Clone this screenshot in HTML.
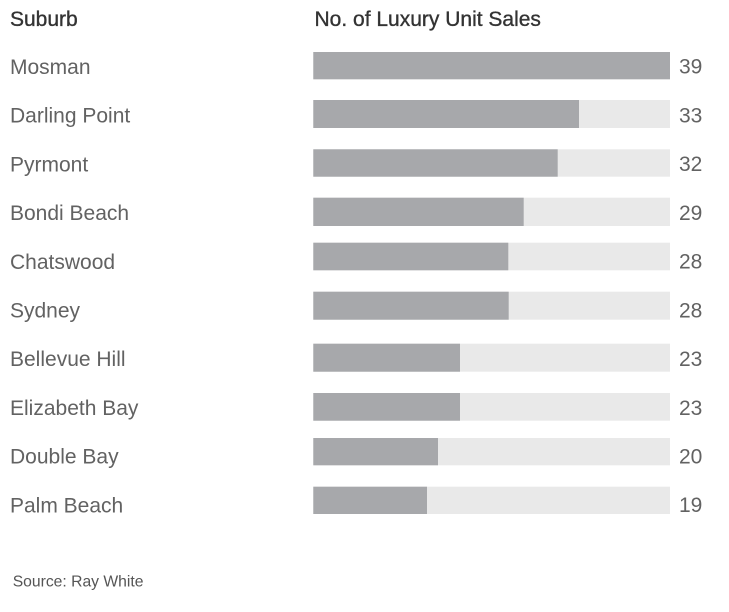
<!DOCTYPE html>
<html>
<head>
<meta charset="utf-8">
<style>
  html, body { margin:0; padding:0; background:#ffffff; }
  body { width:729px; height:612px; overflow:hidden; }
  svg { display:block; }
  text { font-family:"Liberation Sans", sans-serif; }
  .hdr { font-size:21px; fill:#333333; stroke:#333333; stroke-width:0.35px; }
  .lbl { font-size:21px; fill:#626262; }
  .val { font-size:21px; fill:#626262; }
  .src { font-size:15.7px; fill:#555555; }
  .trk { fill:#e9e9e9; }
  .bar { fill:#a7a8ab; }
</style>
</head>
<body>
<svg width="729" height="612" viewBox="0 0 729 612" xmlns="http://www.w3.org/2000/svg">
  <text class="hdr" x="10" y="26">Suburb</text>
  <text class="hdr" x="314.5" y="26">No. of Luxury Unit Sales</text>

  <!-- tracks -->
  <rect class="trk" x="313.3" y="52" width="356.7" height="27.3"/>
  <rect class="trk" x="313.3" y="100" width="356.7" height="28"/>
  <rect class="trk" x="313.3" y="149.3" width="356.7" height="27.4"/>
  <rect class="trk" x="313.3" y="197.7" width="356.7" height="28.3"/>
  <rect class="trk" x="313.3" y="242.7" width="356.7" height="27.6"/>
  <rect class="trk" x="313.3" y="291.7" width="356.7" height="28"/>
  <rect class="trk" x="313.3" y="343.7" width="356.7" height="28"/>
  <rect class="trk" x="313.3" y="393" width="356.7" height="27.7"/>
  <rect class="trk" x="313.3" y="438" width="356.7" height="27.3"/>
  <rect class="trk" x="313.3" y="486.7" width="356.7" height="27.3"/>

  <!-- bars -->
  <rect class="bar" x="313.3" y="52" width="356.7" height="27.3"/>
  <rect class="bar" x="313.3" y="100" width="265.7" height="28"/>
  <rect class="bar" x="313.3" y="149.3" width="244.4" height="27.4"/>
  <rect class="bar" x="313.3" y="197.7" width="210.4" height="28.3"/>
  <rect class="bar" x="313.3" y="242.7" width="195.0" height="27.6"/>
  <rect class="bar" x="313.3" y="291.7" width="195.4" height="28"/>
  <rect class="bar" x="313.3" y="343.7" width="146.7" height="28"/>
  <rect class="bar" x="313.3" y="393" width="146.7" height="27.7"/>
  <rect class="bar" x="313.3" y="438" width="124.7" height="27.3"/>
  <rect class="bar" x="313.3" y="486.7" width="113.7" height="27.3"/>

  <!-- labels -->
  <text class="lbl" x="10" y="74">Mosman</text>
  <text class="lbl" x="10" y="122.7">Darling Point</text>
  <text class="lbl" x="10" y="171.4">Pyrmont</text>
  <text class="lbl" x="10" y="220.1">Bondi Beach</text>
  <text class="lbl" x="10" y="268.8">Chatswood</text>
  <text class="lbl" x="10" y="317.5">Sydney</text>
  <text class="lbl" x="10" y="366.2">Bellevue Hill</text>
  <text class="lbl" x="10" y="414.9">Elizabeth Bay</text>
  <text class="lbl" x="10" y="463.6">Double Bay</text>
  <text class="lbl" x="10" y="512.3">Palm Beach</text>

  <!-- values -->
  <text class="val" x="679" y="73.5">39</text>
  <text class="val" x="679" y="122.3">33</text>
  <text class="val" x="679" y="171.2">32</text>
  <text class="val" x="679" y="220">29</text>
  <text class="val" x="679" y="268.7">28</text>
  <text class="val" x="679" y="317.4">28</text>
  <text class="val" x="679" y="366.1">23</text>
  <text class="val" x="679" y="414.8">23</text>
  <text class="val" x="679" y="463.4">20</text>
  <text class="val" x="679" y="511.8">19</text>

  <text class="src" x="12.7" y="586.7">Source: Ray White</text>
</svg>
</body>
</html>
